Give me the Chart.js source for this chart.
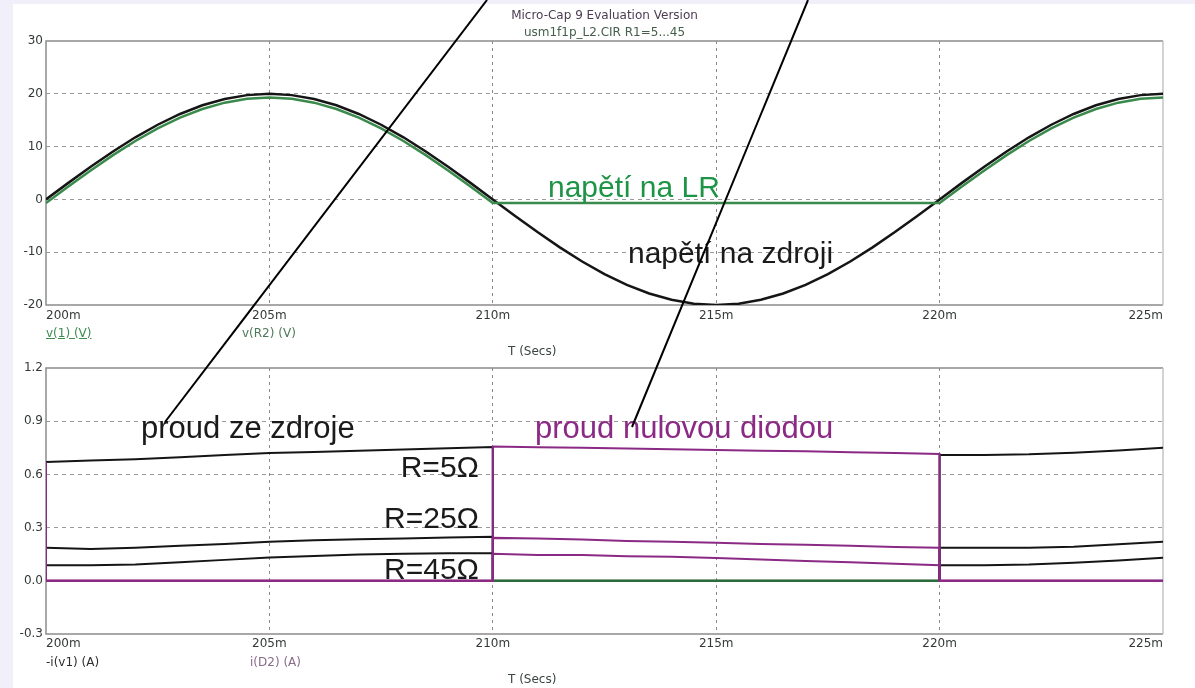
<!DOCTYPE html>
<html>
<head>
<meta charset="utf-8">
<script src="https://cdn.jsdelivr.net/npm/chart.js@4"></script>
<style>
  html, body { margin: 0; padding: 0; }
  body { width: 1195px; height: 688px; background: #f1effa; position: relative; overflow: hidden; font-family: "DejaVu Sans", sans-serif; }
  #panel { position: absolute; left: 13px; top: 4px; right: 0; bottom: 0; background: #fff; }
  canvas { position: absolute; left: 0; }
  .sm { position: absolute; font-size: 12px; line-height: 12px; white-space: nowrap; }
  .big { position: absolute; font-family: "Liberation Sans", Arial, sans-serif; white-space: nowrap; }
  #leaders { position: absolute; left: 0; top: 0; }
</style>
</head>
<body>
<div id="panel"></div>
<canvas id="topChart" width="1195" height="330" style="top:0"></canvas>
<canvas id="botChart" width="1195" height="358" style="top:330px"></canvas>

<div class="sm" style="left:0;width:1209px;text-align:center;top:9px;color:#4b3c52">Micro-Cap 9 Evaluation Version</div>
<div class="sm" style="left:0;width:1209px;text-align:center;top:26px;color:#44604c">usm1f1p_L2.CIR R1=5...45</div>

<div class="sm" style="left:46px;top:327px;color:#3d8b4f;text-decoration:underline">v(1) (V)</div>
<div class="sm" style="left:242px;top:327px;color:#4d7a58">v(R2) (V)</div>
<div class="sm" style="left:508px;top:345px;color:#3a4540">T (Secs)</div>
<div class="sm" style="left:46px;top:656px;color:#2e2e2e">-i(v1) (A)</div>
<div class="sm" style="left:250px;top:656px;color:#8a6a8a">i(D2) (A)</div>
<div class="sm" style="left:508px;top:673px;color:#3a4540">T (Secs)</div>

<div class="big" style="left:548px;top:172px;font-size:30px;line-height:30px;color:#1e9446">napětí na LR</div>
<div class="big" style="left:628px;top:238px;font-size:30px;line-height:30px;color:#1a1a1a">napětí na zdroji</div>
<div class="big" style="left:141px;top:412px;font-size:31px;line-height:31px;color:#1a1a1a">proud ze zdroje</div>
<div class="big" style="left:535px;top:412px;font-size:31px;line-height:31px;color:#8b2a85">proud nulovou diodou</div>
<div class="big" style="right:716px;top:452px;font-size:30px;line-height:30px;color:#1a1a1a">R=5Ω</div>
<div class="big" style="right:716px;top:503px;font-size:30px;line-height:30px;color:#1a1a1a">R=25Ω</div>
<div class="big" style="right:716px;top:554px;font-size:30px;line-height:30px;color:#1a1a1a">R=45Ω</div>

<svg id="leaders" width="1195" height="688">
  <line x1="487" y1="0" x2="165" y2="422" stroke="#000" stroke-width="2"/>
  <line x1="808" y1="0" x2="632" y2="427" stroke="#000" stroke-width="2"/>
</svg>

<script>
// Micro-Cap 9 過渡解析 (v(1), v(R2), -i(v1), i(D2))
const BLACK = "#151515";
const GREEN = "#3a8a4c";
const PURPLE = "#8b2a85";
const ZERO_GREEN = "#2d6a3a";
const TICK_COLOR = "#333a36";

// 上段: 時間 [ms]
const T_TOP = [200, 200.5, 201, 201.5, 202, 202.5, 203, 203.5, 204, 204.5,
  205, 205.5, 206, 206.5, 207, 207.5, 208, 208.5, 209, 209.5,
  210, 210.5, 211, 211.5, 212, 212.5, 213, 213.5, 214, 214.5,
  215, 215.5, 216, 216.5, 217, 217.5, 218, 218.5, 219, 219.5,
  220, 220.5, 221, 221.5, 222, 222.5, 223, 223.5, 224, 224.5, 225];
// v(1) 電源電圧 [V]
const V_SRC = [0, 3.13, 6.18, 9.08, 11.76, 14.14, 16.18, 17.82, 19.02, 19.75,
  20, 19.75, 19.02, 17.82, 16.18, 14.14, 11.76, 9.08, 6.18, 3.13,
  0, -3.13, -6.18, -9.08, -11.76, -14.14, -16.18, -17.82, -19.02, -19.75,
  -20, -19.75, -19.02, -17.82, -16.18, -14.14, -11.76, -9.08, -6.18, -3.13,
  0, 3.13, 6.18, 9.08, 11.76, 14.14, 16.18, 17.82, 19.02, 19.75, 20];
// v(R2) 負荷電圧 [V]
const V_LR = [-0.7, 2.43, 5.48, 8.38, 11.06, 13.44, 15.48, 17.12, 18.32, 19.05,
  19.3, 19.05, 18.32, 17.12, 15.48, 13.44, 11.06, 8.38, 5.48, 2.43,
  -0.7, -0.7, -0.7, -0.7, -0.7, -0.7, -0.7, -0.7, -0.7, -0.7,
  -0.7, -0.7, -0.7, -0.7, -0.7, -0.7, -0.7, -0.7, -0.7, -0.7,
  -0.7, 2.43, 5.48, 8.38, 11.06, 13.44, 15.48, 17.12, 18.32, 19.05, 19.3];

// 下段: -i(v1) 電源電流 [A]  (R1 = 5, 25, 45)
const T_SRC = [200, 201, 202, 203, 204, 205, 206, 207, 208, 209, 210, 210, 220, 220, 221, 222, 223, 224, 225];
const I_SRC_5  = [0.670, 0.678, 0.686, 0.697, 0.709, 0.720, 0.727, 0.734, 0.741, 0.748, 0.754, 0, 0, 0.709, 0.710, 0.713, 0.722, 0.735, 0.750];
const I_SRC_25 = [0.186, 0.180, 0.186, 0.197, 0.208, 0.220, 0.228, 0.234, 0.239, 0.244, 0.248, 0, 0, 0.186, 0.186, 0.186, 0.192, 0.206, 0.220];
const I_SRC_45 = [0.088, 0.088, 0.092, 0.105, 0.118, 0.131, 0.140, 0.148, 0.153, 0.155, 0.155, 0, 0, 0.088, 0.088, 0.092, 0.102, 0.115, 0.130];

// i(D2) 還流ダイオード電流 [A]
const T_DIODE = [200, 200, 210, 210, 211, 212, 213, 214, 215, 216, 217, 218, 219, 220, 220, 225];
const I_D_5  = [0.670, 0, 0, 0.757, 0.753, 0.750, 0.746, 0.742, 0.738, 0.734, 0.730, 0.725, 0.720, 0.715, 0, 0];
const I_D_25 = [0.186, 0, 0, 0.242, 0.238, 0.233, 0.225, 0.220, 0.214, 0.208, 0.203, 0.198, 0.190, 0.186, 0, 0];
const I_D_45 = [0.088, 0, 0, 0.152, 0.146, 0.145, 0.138, 0.135, 0.128, 0.120, 0.112, 0.104, 0.096, 0.088, 0, 0];

const X_TICKS = { min: 200, max: 225, step: 5 };
const Y_TOP = { min: -20, max: 30, step: 10 };
const Y_BOT = { min: -0.3, max: 1.2, step: 0.3 };

Chart.defaults.font.family = "'DejaVu Sans', sans-serif";
Chart.defaults.font.size = 12;

function pts(ts, vs) {
  return ts.map((t, i) => ({ x: t, y: vs[i] }));
}

function line(label, ts, vs, color, width, zeroColor) {
  return {
    label,
    data: pts(ts, vs),
    borderColor: color,
    borderWidth: width,
    pointRadius: 0,
    tension: 0,
    segment: zeroColor ? {
      borderColor: (c) => (c.p0.parsed.y === 0 && c.p1.parsed.y === 0 ? zeroColor : undefined),
    } : undefined,
  };
}

// 枠線 (グリッドの上、波形の下)
const framePlugin = {
  id: "frame",
  beforeDatasetsDraw(chart) {
    const { ctx, chartArea: a } = chart;
    ctx.save();
    ctx.lineWidth = 1.5;
    ctx.strokeStyle = "#8c8c8c";
    ctx.beginPath();
    ctx.moveTo(a.right, a.top);
    ctx.lineTo(a.left, a.top);
    ctx.lineTo(a.left, a.bottom);
    ctx.lineTo(a.right, a.bottom);
    ctx.stroke();
    ctx.strokeStyle = "#c4c4c4";
    ctx.beginPath();
    ctx.moveTo(a.right, a.top);
    ctx.lineTo(a.right, a.bottom);
    ctx.stroke();
    ctx.restore();
  },
};

function edgeHidden(color) {
  return (c) => (c.index === 0 || c.index === c.scale.ticks.length - 1 ? "rgba(0,0,0,0)" : color);
}

function makeOptions(yr, padTop, axisH, fmt, xPad) {
  return {
    responsive: false,
    animation: false,
    devicePixelRatio: 1,
    layout: { padding: { left: 0, right: 32, top: padTop, bottom: 0 } },
    plugins: { legend: { display: false }, tooltip: { enabled: false } },
    scales: {
      x: {
        type: "linear",
        min: X_TICKS.min, max: X_TICKS.max,
        afterFit: (s) => { s.height = axisH; },
        border: { display: false, dash: [3, 4] },
        grid: { color: edgeHidden("#8a8a8a"), lineWidth: 1, drawTicks: false },
        ticks: {
          stepSize: X_TICKS.step, align: "inner", maxRotation: 0, autoSkip: false,
          padding: xPad, color: TICK_COLOR,
          callback: (v) => v + "m",
        },
      },
      y: {
        min: yr.min, max: yr.max,
        afterFit: (s) => { s.width = 46; },
        border: { display: false, dash: [4, 4] },
        grid: { color: edgeHidden("#9a9a9a"), lineWidth: 1, drawTicks: false },
        ticks: { stepSize: yr.step, padding: 3, color: TICK_COLOR, callback: fmt },
      },
    },
  };
}

new Chart(document.getElementById("topChart"), {
  type: "line",
  data: {
    datasets: [
      line("v(R2)", T_TOP, V_LR, GREEN, 2.5),
      line("v(1)", T_TOP, V_SRC, BLACK, 2.5),
    ],
  },
  options: makeOptions(Y_TOP, 41, 25, (v) => String(v), 4),
  plugins: [framePlugin],
});

new Chart(document.getElementById("botChart"), {
  type: "line",
  data: {
    datasets: [
      line("i(D2) R=45", T_DIODE, I_D_45, PURPLE, 2),
      line("i(D2) R=25", T_DIODE, I_D_25, PURPLE, 2),
      line("i(D2) R=5", T_DIODE, I_D_5, PURPLE, 2),
      line("-i(v1) R=45", T_SRC, I_SRC_45, BLACK, 2, ZERO_GREEN),
      line("-i(v1) R=25", T_SRC, I_SRC_25, BLACK, 2, ZERO_GREEN),
      line("-i(v1) R=5", T_SRC, I_SRC_5, BLACK, 2, ZERO_GREEN),
    ],
  },
  options: makeOptions(Y_BOT, 38, 54, (v) => Number(v).toFixed(1), 3),
  plugins: [framePlugin],
});
</script>
</body>
</html>
